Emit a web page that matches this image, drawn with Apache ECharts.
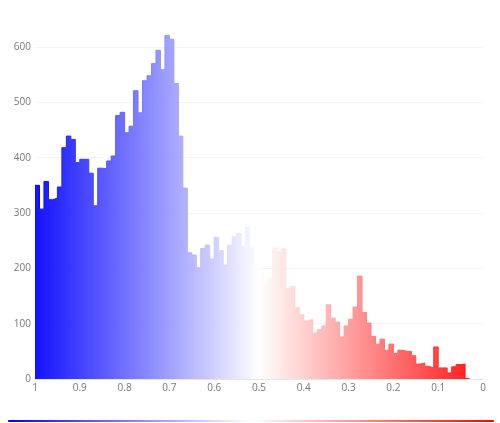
<!DOCTYPE html>
<html>
<head>
<meta charset="utf-8">
<script src="https://cdn.jsdelivr.net/npm/echarts@6/dist/echarts.min.js"></script>
<style>
  html, body { margin: 0; padding: 0; background: #fff; }
  #chart { width: 500px; height: 423px; }
</style>
</head>
<body>
<div id="chart"></div>
<script>
// histogram bins, read left to right (x runs from 1 down to 0)
const binStart = 1.0;
const binWidth = 0.01;
const counts = [
  350, 307, 357, 324, 327, 347, 418, 439, 433, 391,
  397, 397, 372, 313, 381, 380, 394, 403, 476, 482,
  445, 457, 521, 481, 539, 548, 570, 594, 559, 621,
  614, 534, 439, 345, 228, 224, 201, 236, 242, 217,
  256, 232, 206, 242, 257, 263, 240, 274, 237, 205,
  192, 173, 184, 237, 230, 235, 163, 167, 129, 116,
  105, 108, 83, 89, 96, 134, 110, 103, 76, 96,
  108, 130, 186, 120, 101, 77, 63, 72, 52, 63,
  46, 52, 50, 50, 42, 27, 29, 23, 20, 58,
  20, 20, 11, 22, 26, 27, 1
];
const xTicks = [0, 1];
const yTicks = [0, 600];
const colorScale = ['#ff0000', '#ffffff', '#0000ff'];

// step points at each bin's left (higher) edge
const steps = counts.map((c, i) => [+(binStart - i * binWidth).toFixed(2), c]);
steps.push([+(binStart - counts.length * binWidth).toFixed(2), counts[counts.length - 1]]);

const chart = echarts.init(document.getElementById('chart'), null, { renderer: 'canvas' });

chart.setOption({
  animation: false,
  textStyle: { fontFamily: 'Open Sans' },
  grid: { left: 35, right: 17, top: 47, bottom: 44 },
  xAxis: {
    type: 'value',
    inverse: true,
    min: xTicks[0],
    max: xTicks[1],
    interval: 0.1,
    axisLine: { show: true, lineStyle: { color: '#e6e6e6', width: 1 } },
    axisTick: { show: false },
    splitLine: { show: false },
    axisLabel: { color: '#777', fontSize: 10, margin: 4 }
  },
  yAxis: {
    type: 'value',
    min: yTicks[0],
    max: yTicks[1],
    interval: 100,
    axisLine: { show: false },
    axisTick: { show: false },
    splitLine: { lineStyle: { color: '#f4f4f4', width: 1 } },
    axisLabel: { color: '#777', fontSize: 10, margin: 4 }
  },
  visualMap: {
    type: 'continuous',
    dimension: 0,
    min: 0,
    max: 1,
    orient: 'horizontal',
    inverse: true,
    calculable: false,
    hoverLink: false,
    itemWidth: 2,
    itemHeight: 486,
    left: 8,
    top: 420,
    padding: 0,
    text: null,
    inRange: { color: colorScale }
  },
  series: [{
    type: 'line',
    step: 'end',
    data: steps,
    clip: false,
    showSymbol: false,
    symbol: 'none',
    lineStyle: { width: 1 },
    areaStyle: { opacity: 0.93 }
  }]
});
</script>
</body>
</html>
